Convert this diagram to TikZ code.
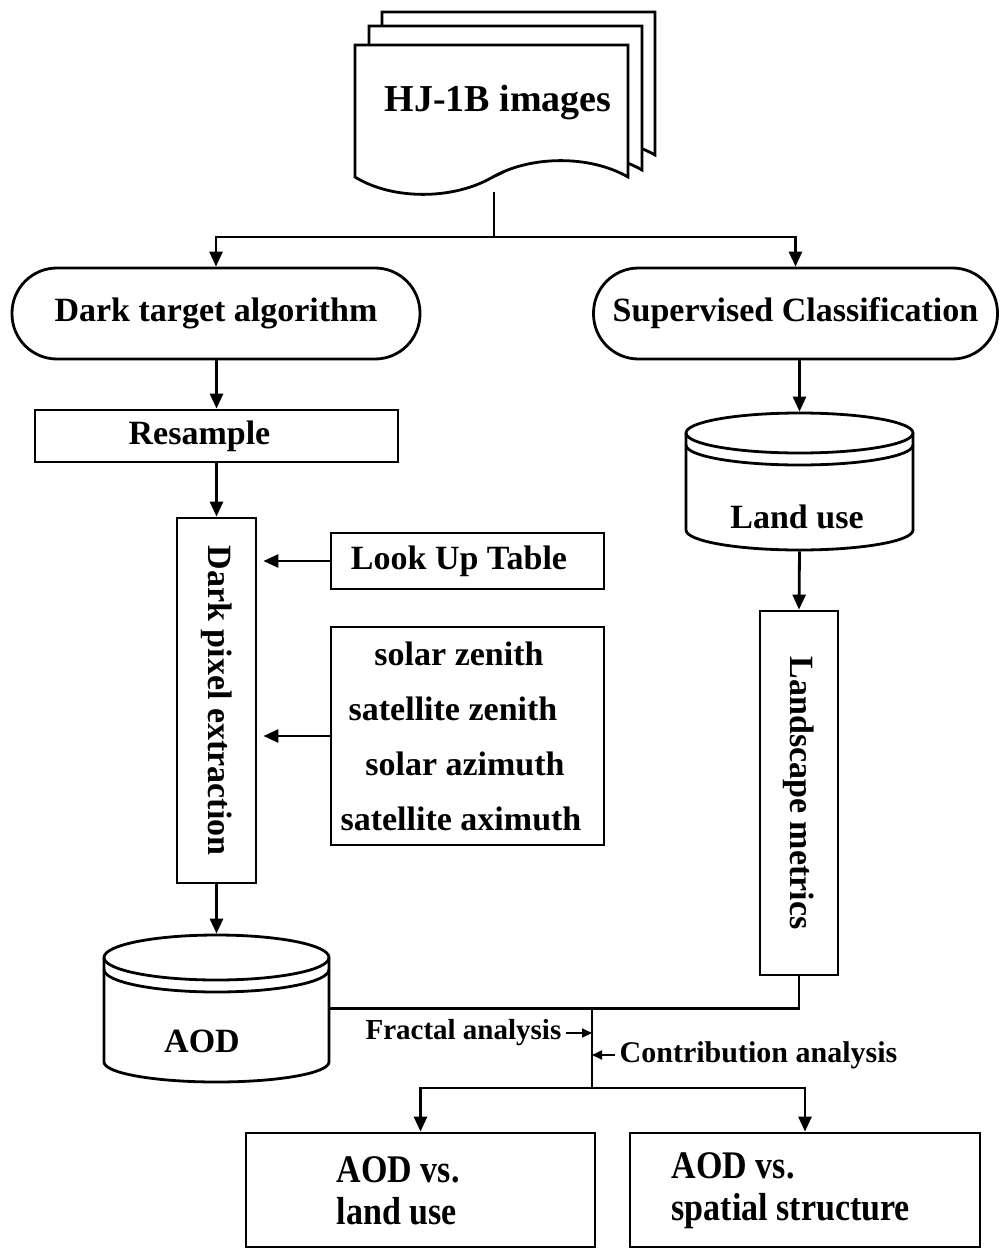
\documentclass[tikz,border=0pt]{standalone}
\usepackage{fontspec}
\setmainfont{Liberation Serif}
\usetikzlibrary{arrows.meta,calc}
\begin{document}
\begin{tikzpicture}[x=1pt,y=-1pt,
  line width=2.8pt,
  txt/.style={font=\fontsize{34}{40}\selectfont\bfseries},
  arr/.style={-{Triangle[length=15pt,width=13pt]}},
  sarr/.style={line width=2pt,-{Triangle[length=10pt,width=9pt]}},
  box/.style={draw, rectangle, inner sep=0pt, txt},
  stadium/.style={draw, rectangle, rounded corners=45pt, inner sep=0pt, txt},
  sheet/.style={draw, fill=white},
]
\fill[white] (0,0) rectangle (1000,1249);
\useasboundingbox (0,0) rectangle (1000,1249);

% ---- document stack ----
\newcommand{\docpath}[4]{% L T R B
  (#1,#2) -- (#3,#2) -- (#3,#4)
  .. controls ({#3-38},{#4-22}) and ({#3-98},{#4-22}) .. ({#3-137},{#4+1})
  .. controls ({#3-176},{#4+23}) and ({#3-236},{#4+23}) .. (#1,#4) -- cycle}
\draw[sheet] \docpath{382}{12}{655}{155};
\draw[sheet] \docpath{369}{26}{642}{170};
\draw[sheet] \docpath{355}{45}{628}{177};
\node[txt, font=\fontsize{38}{44}\selectfont\bfseries, anchor=base] (doc) at (498,112) {HJ-1B images};
\coordinate (docbot) at (494,192);
\coordinate (split) at (494,237);

% ---- top process nodes ----
\node[stadium, minimum width=408pt, minimum height=91pt] (dta) at (216,313.5) {Dark target algorithm};
\node[stadium, minimum width=404pt, minimum height=91pt] (sc) at (795.5,313.5) {Supervised Classification};

\node[box, minimum width=363pt, minimum height=52pt] (res) at (216.5,436) {\hspace*{-34pt}Resample};
\node[box, minimum width=79pt, minimum height=365pt] (dpe) at (216.5,700.5) {\rotatebox{-90}{Dark pixel extraction}};
\node[box, minimum width=273pt, minimum height=56pt] (lut) at (467.5,561) {\hspace*{-17pt}Look Up Table};
\node[box, minimum width=273pt, minimum height=218pt, align=center,
      font=\fontsize{34}{55}\selectfont\bfseries] (par) at (467.5,736)
  {\hspace*{-17pt}solar zenith\\\hspace*{-29pt}satellite zenith\\\hspace*{-5pt}solar azimuth\\\hspace*{-13pt}satellite aximuth};

% ---- cylinders ----
% AOD
\node[minimum width=225pt, minimum height=147pt, inner sep=0pt] (aod) at (216.5,1008.5) {};
\draw[fill=white] (104,957.5) -- (104,1062) arc[start angle=180, end angle=360, x radius=112.5pt, y radius=20pt] -- (329,957.5);
\draw (216.5,957.5) ellipse [x radius=112.5pt, y radius=22.5pt];
\draw (104,969.5) arc[start angle=180, end angle=360, x radius=112.5pt, y radius=22.5pt];
\node[txt, anchor=base] (aodt) at (202,1052) {AOD};
% Land use
\node[minimum width=227pt, minimum height=137pt, inner sep=0pt] (lu) at (799.5,481.5) {};
\draw[fill=white] (686,433) -- (686,530) arc[start angle=180, end angle=360, x radius=113.5pt, y radius=20pt] -- (913,433);
\draw (799.5,433) ellipse [x radius=113.5pt, y radius=20pt];
\draw (686,445) arc[start angle=180, end angle=360, x radius=113.5pt, y radius=20pt];
\node[txt, anchor=base] (lut2) at (797,528) {Land use};

\node[box, minimum width=78pt, minimum height=364pt] (lm) at (799,793) {\rotatebox{-90}{Landscape metrics}};

% ---- result boxes ----
\node[box, minimum width=349pt, minimum height=114pt] (r1) at (420.5,1190) {};
\node[box, minimum width=350pt, minimum height=114pt] (r2) at (805,1190) {};
\node[txt, anchor=west, align=left, font=\fontsize{34}{42}\selectfont\bfseries] (r1t) at (332,1191) {\scalebox{1}[1.15]{AOD vs.}\\\scalebox{1}[1.15]{land use}};
\node[txt, anchor=west, align=left, font=\fontsize{34}{42}\selectfont\bfseries] (r2t) at (667,1191) {\scalebox{1}[1.15]{AOD vs.}\\\scalebox{1}[1.15]{spatial structure}};

% ---- connectors ----
\draw (docbot) -- (split);
\draw[arr] (split) -| (dta.north);
\draw[arr] (split) -| (sc.north);
\draw[arr] (dta.south -| res.north) -- (res.north);
\draw[arr] (res.south) -- (dpe.north);
\draw[arr, shorten >=6pt] (lut.west) -- (lut.west -| dpe.east);
\draw[arr, shorten >=6pt] (par.west) -- (par.west -| dpe.east);
\draw[arr] (dpe.south) -- (aod.north);
\draw[arr] (sc.south -| lu.north) -- (lu.north);
\draw[arr] (lu.south) -- (lm.north);

\coordinate (m1) at (592,1008.5);
\coordinate (m2) at (592,1088);
\draw (aod.east) -| (lm.south);
\draw (m1) -- (m2);
\draw[arr] (m2) -| (r1.north);
\draw[arr] (m2) -| (r2.north);

\node[txt, font=\fontsize{29}{33}\selectfont\bfseries, anchor=east] (fr) at (566,1033) {Fractal analysis};
\node[txt, font=\fontsize{30}{34}\selectfont\bfseries, anchor=west] (co) at (615,1055) {Contribution analysis};
\draw[sarr] (fr.east) -- (fr.east -| m1);
\draw[sarr] (co.west) -- (co.west -| m1);
\end{tikzpicture}
\end{document}
